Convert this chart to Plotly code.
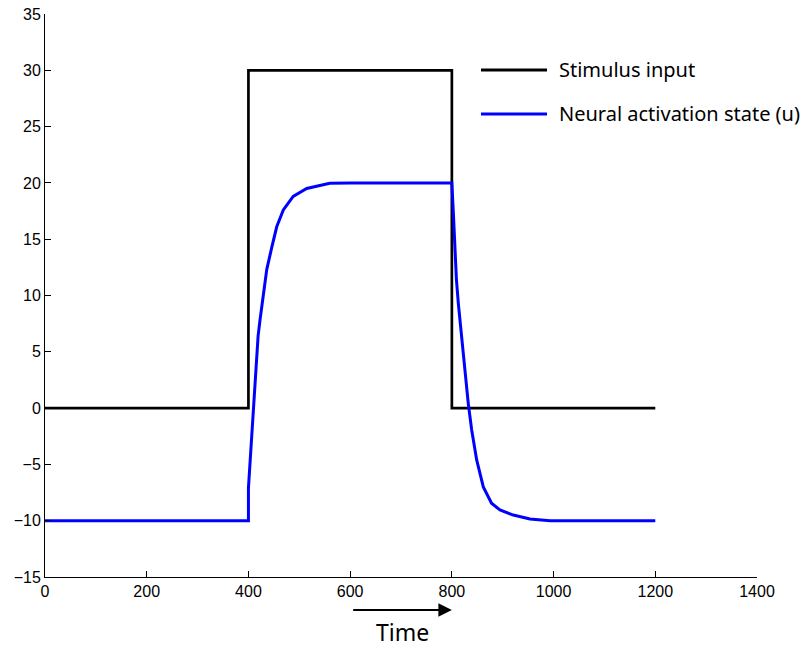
import plotly.graph_objects as go

# Stimulus input (step)
t_stim = [0, 400, 400, 800, 800, 1200]
stim = [0, 0, 30, 30, 0, 0]

# Neural activation state u
t_u = [0, 400, 400, 403, 406, 409.6, 413, 416, 419, 422.7, 429, 436, 446, 455.6, 468.6, 488, 514.6, 540.7, 560, 600,
       700, 797.7, 800, 803, 806, 809, 812.7, 819, 825.8, 832.3, 839, 848.8, 861.8, 878, 894.6, 920.8, 953.6, 993, 1100, 1200]
u = [-10, -10, -7.1, -5.0, -2.5, 0.4, 2.8, 4.9, 6.4, 7.8, 9.9, 12.3, 14.3, 16.1, 17.6, 18.8, 19.5, 19.8, 19.96, 20,
     20, 20, 20, 17.3, 13.8, 11.4, 9.3, 6.3, 3.4, 0.4, -1.95, -4.6, -7.0, -8.45, -9.05, -9.5, -9.85, -10, -10, -10]

x_ticks = [0, 200, 400, 600, 800, 1000, 1200, 1400]
y_ticks = [-15, -10, -5, 0, 5, 10, 15, 20, 25, 30, 35]

legend_labels = ["Stimulus input", "Neural activation state (u)"]

W, H = 806, 649
L, R, T, B = 45, 49, 14, 72
PW, PH = W - L - R, H - T - B


def px(x):
    return (x - L) / PW


def py(y):
    return (H - B - y) / PH


fig = go.Figure()
fig.add_trace(go.Scatter(x=t_stim, y=stim, mode="lines", line=dict(color="black", width=2.7),
                         name=legend_labels[0], showlegend=False))
fig.add_trace(go.Scatter(x=t_u, y=u, mode="lines", line=dict(color="#0000ff", width=3),
                         name=legend_labels[1], showlegend=False))

# manual legend
leg_y = [70, 114]
leg_col = ["black", "#0000ff"]
for yy, col, lab in zip(leg_y, leg_col, legend_labels):
    fig.add_shape(type="line", xref="paper", yref="paper", x0=px(481), x1=px(547), y0=py(yy), y1=py(yy),
                  line=dict(color=col, width=3))
    fig.add_annotation(xref="paper", yref="paper", x=px(557), y=py(yy - 1), text=lab, showarrow=False,
                       xanchor="left", yanchor="middle",
                       font=dict(family="Noto Sans", size=20, color="black"))

# Time arrow and label
fig.add_annotation(xref="x", yref="paper", axref="x", ayref="pixel", x=800, y=py(610), ax=603, ay=0,
                   text="", showarrow=True, arrowhead=2, arrowsize=1.5, arrowwidth=1.8, arrowcolor="black")
fig.add_annotation(xref="paper", yref="paper", x=px(402), y=py(632), text="Time", showarrow=False,
                   xanchor="center", yanchor="middle", borderpad=0,
                   font=dict(family="Noto Sans", size=23, color="black"))

fig.update_layout(
    width=W, height=H,
    margin=dict(l=L, r=R, t=T, b=B),
    paper_bgcolor="white", plot_bgcolor="white",
    font=dict(family="Liberation Sans", size=16, color="black"),
    showlegend=False,
)
fig.update_xaxes(range=[0, 1400], tickvals=x_ticks, ticks="inside", ticklen=6, tickcolor="black",
                 showline=True, linecolor="black", linewidth=1, showgrid=False, zeroline=False,
                 tickfont=dict(family="Liberation Sans", size=16), automargin=False)
fig.update_yaxes(range=[-15, 35], tickvals=y_ticks, ticks="inside", ticklen=6, tickcolor="black",
                 showline=True, linecolor="black", linewidth=1, showgrid=False, zeroline=False,
                 tickfont=dict(family="Liberation Sans", size=16), automargin=False)

fig.write_html("out.html", config={"displayModeBar": False},
               post_script="document.body.style.margin='0px';")
